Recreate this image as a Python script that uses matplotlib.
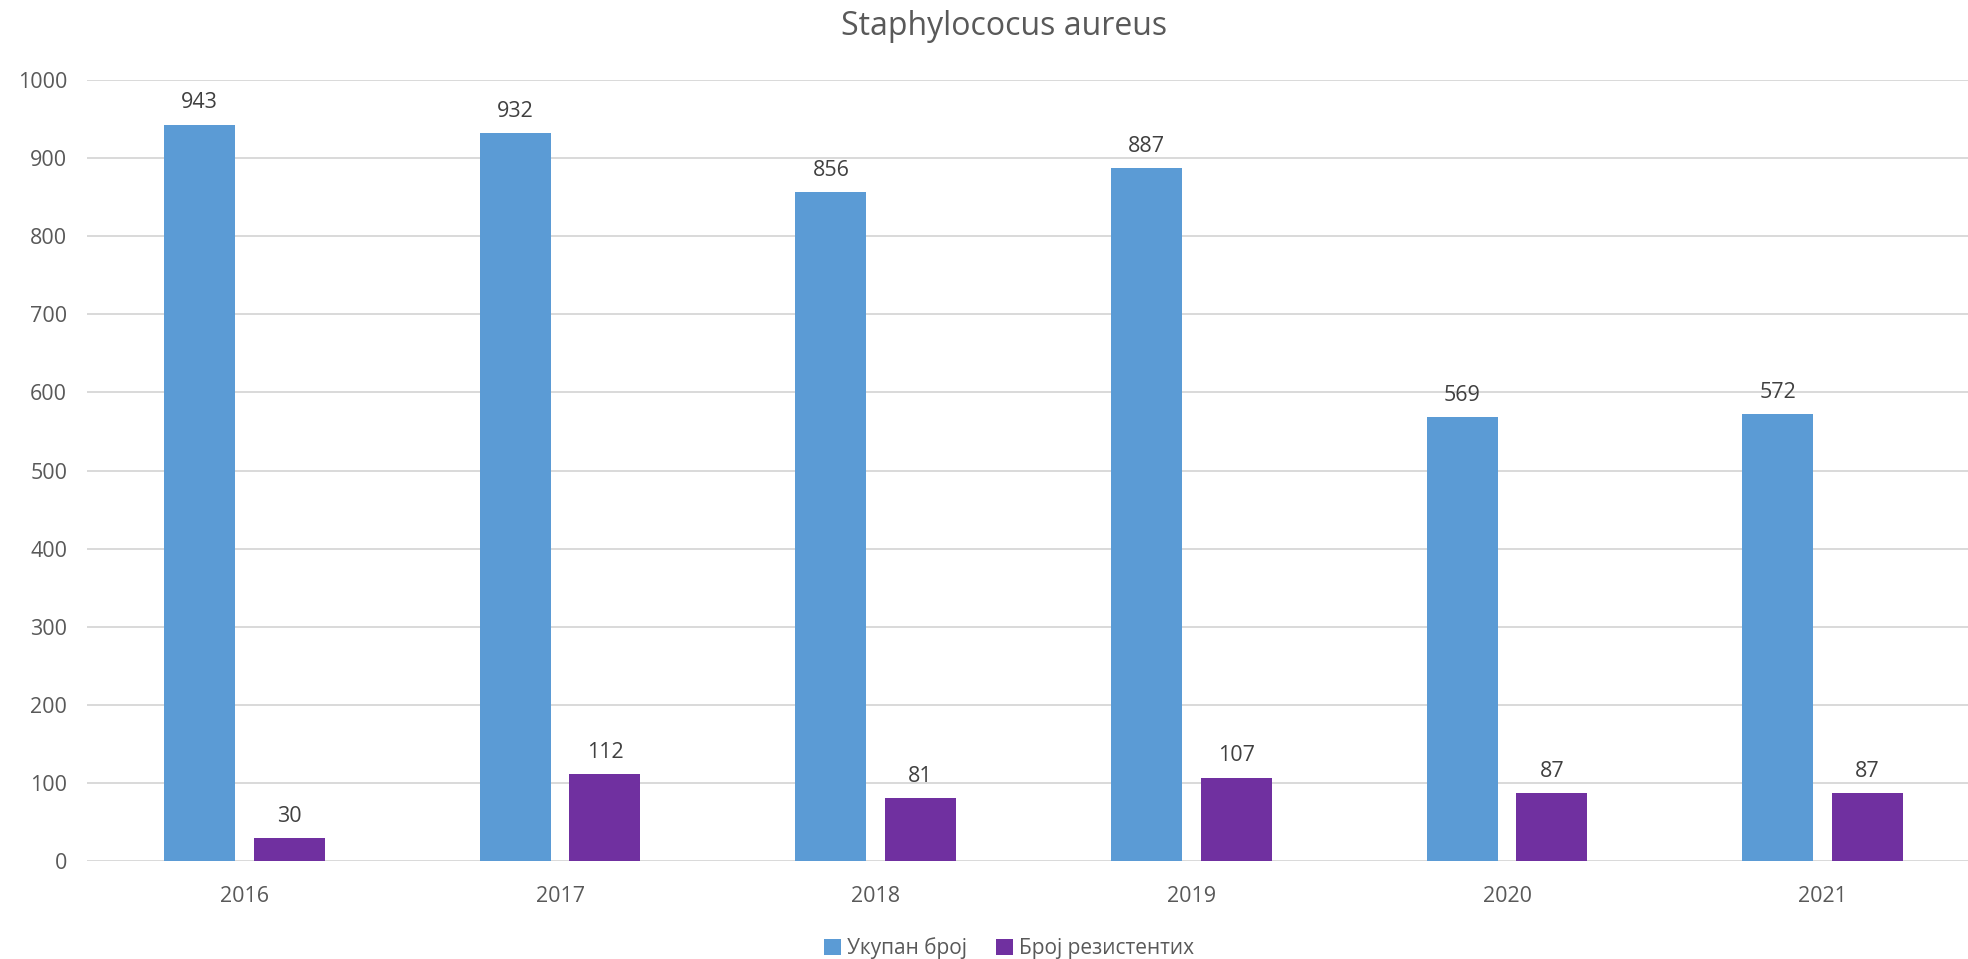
import numpy as np
import matplotlib.pyplot as plt

# Staphylococcus aureus isolates per year: total vs resistant
years = ["2016", "2017", "2018", "2019", "2020", "2021"]
total = [943, 932, 856, 887, 569, 572]
resistant = [30, 112, 81, 107, 87, 87]

series_names = ["Укупан број", "Број резистентих"]
colors = ["#5B9BD5", "#7030A0"]
text_color = "#595959"

plt.rcParams['font.family'] = ['Open Sans', 'DejaVu Sans']

fig = plt.figure(figsize=(19.68, 9.59), dpi=100)
# plot area runs slightly past the right edge of the figure
ax = fig.add_axes([0.044, 0.102, 0.9624, 0.8146])

x = np.arange(len(years))
width = 0.225
offset = 0.1422

bars1 = ax.bar(x - offset, total, width, color=colors[0], label=series_names[0], zorder=3)
bars2 = ax.bar(x + offset, resistant, width, color=colors[1], label=series_names[1], zorder=3)

for bars in (bars1, bars2):
    for b in bars:
        h = b.get_height()
        ax.annotate(f"{h:.0f}", (b.get_x() + b.get_width() / 2, h),
                    xytext=(0, 8), textcoords="offset points",
                    ha="center", va="bottom", fontsize=15.5, color="#404040")

ax.set_xlim(-0.5, len(years) - 0.5)
ax.set_ylim(0, 1000)
ax.set_yticks(np.arange(0, 1001, 100))
ax.set_xticks(x)
ax.set_xticklabels(years)
ax.tick_params(axis="both", length=0, labelsize=15.5, labelcolor=text_color)
ax.tick_params(axis="x", pad=18)
ax.tick_params(axis="y", pad=14)
ax.grid(axis="y", color="#D9D9D9", linewidth=1.4, zorder=0)
for s in ax.spines.values():
    s.set_visible(False)

fig.suptitle("Staphylococus aureus", fontsize=23, color=text_color, x=0.510, y=0.972, va="center")

fig.legend(loc="center", bbox_to_anchor=(0.5127, 0.0115), ncol=2, frameon=False,
           fontsize=15, labelcolor=text_color, handlelength=0.8, handleheight=0.8,
           handletextpad=0.3, columnspacing=1.4)

fig.savefig("out.png", dpi=100)
